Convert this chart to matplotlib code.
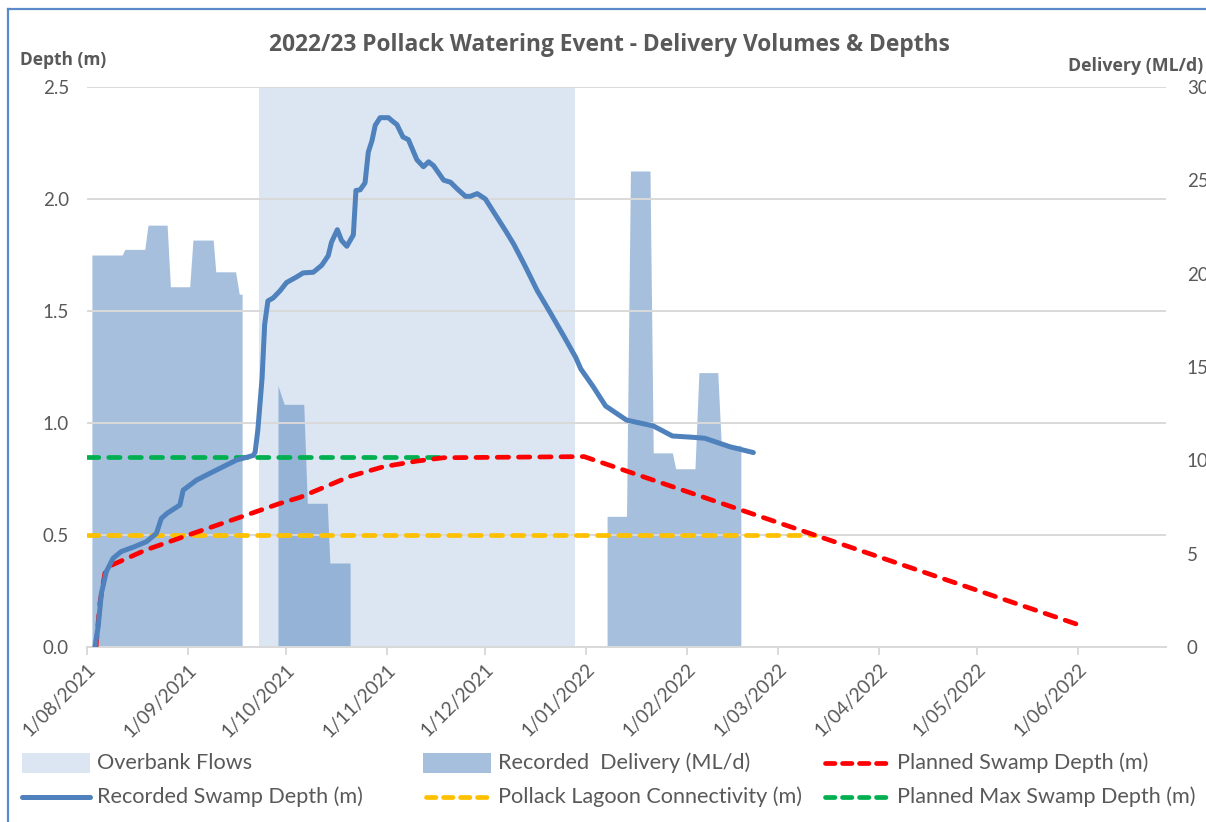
import matplotlib
matplotlib.use('Agg')
import matplotlib.pyplot as plt
from matplotlib.lines import Line2D
from matplotlib.patches import Rectangle
from matplotlib.ticker import FuncFormatter, MultipleLocator
import matplotlib.dates as mdates
import pandas as pd

plt.rcParams['font.family'] = ['Lato', 'DejaVu Sans']
BOLD_FAMILY = ['Open Sans', 'DejaVu Sans']

# ---------------- data ----------------
title = "2022/23 Pollack Watering Event - Delivery Volumes & Depths"

overbank_dates = ['2021-09-22 18:00', '2021-12-28 17:00']
overbank_values = [30, 30]

delivery_dates = [
    '2021-08-02 12:00', '2021-08-02 12:00', '2021-08-11 19:00', '2021-08-12 14:00',
    '2021-08-18 17:00', '2021-08-19 17:00', '2021-08-25 14:00', '2021-08-26 14:00',
    '2021-09-01 12:00', '2021-09-02 12:00', '2021-09-08 17:00', '2021-09-09 12:00',
    '2021-09-15 14:00', '2021-09-16 17:00', '2021-09-17 14:00', '2021-09-17 14:00',
    '2021-09-28 14:00', '2021-09-28 14:00', '2021-09-30 12:00', '2021-10-06 12:00',
    '2021-10-07 14:00', '2021-10-13 17:00', '2021-10-14 12:00', '2021-10-20 17:00',
    '2021-10-20 17:00',
    '2022-01-07 13:00', '2022-01-07 13:00', '2022-01-13 12:00', '2022-01-14 17:00',
    '2022-01-20 17:00', '2022-01-21 17:00', '2022-01-27 14:00', '2022-01-28 14:00',
    '2022-02-03 12:00', '2022-02-04 17:00', '2022-02-10 12:00', '2022-02-11 14:00',
    '2022-02-17 14:00', '2022-02-17 14:00']
delivery_values = [
    0, 21.0, 21.0, 21.3,
    21.3, 22.6, 22.6, 19.3,
    19.3, 21.8, 21.8, 20.1,
    20.1, 18.9, 18.9, 0,
    0, 14.0, 13.0, 13.0,
    7.7, 7.7, 4.5, 4.5,
    0,
    0, 7.0, 7.0, 25.5,
    25.5, 10.4, 10.4, 9.55,
    9.55, 14.7, 14.7, 10.8,
    10.8, 0]

depth_dates = [
    '2021-08-03 10:00', '2021-08-04 10:00', '2021-08-05 10:00', '2021-08-06 22:00',
    '2021-08-09 00:00', '2021-08-11 12:00', '2021-08-15 14:00', '2021-08-19 05:00',
    '2021-08-22 07:00', '2021-08-23 19:00', '2021-08-25 14:00', '2021-08-29 12:00',
    '2021-08-30 12:00', '2021-09-03 14:00', '2021-09-09 17:00', '2021-09-15 22:00',
    '2021-09-21 00:00', '2021-09-21 14:00', '2021-09-22 10:00', '2021-09-23 17:00',
    '2021-09-24 12:00', '2021-09-25 12:00', '2021-09-27 02:00', '2021-09-29 05:00',
    '2021-10-01 05:00', '2021-10-04 07:00', '2021-10-06 07:00', '2021-10-09 10:00',
    '2021-10-12 00:00', '2021-10-14 00:00', '2021-10-15 00:00', '2021-10-16 19:00',
    '2021-10-18 02:00', '2021-10-19 17:00', '2021-10-21 17:00', '2021-10-22 12:00',
    '2021-10-23 19:00', '2021-10-25 07:00', '2021-10-26 07:00', '2021-10-27 10:00',
    '2021-10-28 10:00', '2021-10-29 22:00', '2021-11-01 12:00', '2021-11-02 12:00',
    '2021-11-04 02:00', '2021-11-05 22:00', '2021-11-07 14:00', '2021-11-10 05:00',
    '2021-11-12 05:00', '2021-11-13 19:00', '2021-11-15 07:00', '2021-11-18 10:00',
    '2021-11-20 12:00', '2021-11-22 12:00', '2021-11-25 02:00', '2021-11-26 14:00',
    '2021-11-28 17:00', '2021-12-01 05:00', '2021-12-04 19:00', '2021-12-07 10:00',
    '2021-12-09 22:00', '2021-12-13 00:00', '2021-12-17 02:00', '2021-12-21 05:00',
    '2021-12-25 07:00', '2021-12-28 22:00', '2021-12-30 12:00', '2022-01-03 07:00',
    '2022-01-07 02:00', '2022-01-13 12:00', '2022-01-21 17:00', '2022-01-27 14:00',
    '2022-02-03 00:00', '2022-02-06 12:00', '2022-02-14 05:00', '2022-02-21 10:00']
depth_values = [
    0.0, 0.09, 0.24, 0.336,
    0.396, 0.426, 0.448, 0.47,
    0.507, 0.574, 0.597, 0.634,
    0.70, 0.745, 0.79, 0.835,
    0.855, 0.87, 0.97, 1.2,
    1.44, 1.545, 1.558, 1.59,
    1.627, 1.652, 1.67, 1.673,
    1.704, 1.747, 1.807, 1.863,
    1.815, 1.789, 1.84, 2.038,
    2.041, 2.072, 2.209, 2.26,
    2.329, 2.363, 2.363, 2.35,
    2.332, 2.277, 2.265, 2.175,
    2.144, 2.166, 2.149, 2.084,
    2.075, 2.046, 2.012, 2.012,
    2.024, 2.0, 1.918, 1.858,
    1.798, 1.712, 1.592, 1.49,
    1.387, 1.293, 1.241, 1.162,
    1.076, 1.013, 0.987, 0.942,
    0.936, 0.932, 0.894, 0.868]

planned_dates = [
    '2021-08-03 18:00', '2021-08-05 00:00', '2021-08-06 12:00', '2021-08-08 12:00',
    '2021-08-19 00:00', '2021-09-02 12:00', '2021-09-15 22:00', '2021-09-29 00:00',
    '2021-10-05 08:00', '2021-10-20 17:00', '2021-10-31 00:00', '2021-11-10 05:00',
    '2021-11-18 10:00', '2021-12-31 12:00', '2022-06-01 00:00']
planned_values = [
    0.0, 0.20, 0.33, 0.365,
    0.433, 0.507, 0.574, 0.64,
    0.668, 0.762, 0.805, 0.83,
    0.845, 0.85, 0.10]

connect_dates = ['2021-08-01 00:00', '2022-03-12 06:00']
connect_values = [0.5, 0.5]

maxdepth_dates = ['2021-08-01 00:00', '2021-11-18 18:00']
maxdepth_values = [0.85, 0.85]

x_start, x_end = '2021-08-01', '2022-06-28'
tick_dates = pd.date_range('2021-08-01', '2022-06-01', freq='MS')

labels = ['Overbank Flows', 'Recorded  Delivery (ML/d)', 'Planned Swamp Depth (m)',
          'Recorded Swamp Depth (m)', 'Pollack Lagoon Connectivity (m)',
          'Planned Max Swamp Depth (m)']

# ---------------- styles ----------------
TXT = '#595959'
GRID = '#D9D9D9'
C_OVER = '#DCE6F2'
C_DELIV = '#4F81BD'
C_DEPTH = '#4F81BD'
C_RED = '#FF0000'
C_YEL = '#FFC000'
C_GRN = '#00B050'
DASH = (0, (2.4, 2.1))
LW_DASH = 3.4
LW_DEPTH = 3.6

to_dt = pd.to_datetime

fig = plt.figure(figsize=(12.06, 8.22), dpi=100)
ax = fig.add_axes([87/1206, 1 - 647/822, (1166 - 87)/1206, (647 - 87)/822])
ax2 = ax.twinx()
ax.set_zorder(ax2.get_zorder() + 1)
ax.patch.set_visible(False)

# areas on secondary axis
ax2.fill_between(to_dt(overbank_dates), 0, overbank_values, color=C_OVER, lw=0)
ax2.fill_between(to_dt(delivery_dates), 0, delivery_values, color=C_DELIV, alpha=0.5, lw=0)

# lines on primary axis
ax.plot(to_dt(depth_dates), depth_values, color=C_DEPTH, lw=LW_DEPTH,
        solid_capstyle='round', solid_joinstyle='round', zorder=5)
ax.plot(to_dt(connect_dates), connect_values, color=C_YEL, lw=LW_DASH, ls=DASH,
        dash_capstyle='round', zorder=4)
ax.plot(to_dt(maxdepth_dates), maxdepth_values, color=C_GRN, lw=LW_DASH, ls=DASH,
        dash_capstyle='round', zorder=4)
ax.plot(to_dt(planned_dates), planned_values, color=C_RED, lw=LW_DASH, ls=DASH,
        dash_capstyle='round', zorder=4.5)

# axes limits and ticks
ax.set_xlim(to_dt(x_start), to_dt(x_end))
ax.set_ylim(0, 2.5)
ax2.set_ylim(0, 30)
ax.yaxis.set_major_locator(MultipleLocator(0.5))
ax2.yaxis.set_major_locator(MultipleLocator(5))
ax.yaxis.set_major_formatter(FuncFormatter(lambda v, p: f"{v:.1f}"))
ax2.yaxis.set_major_formatter(FuncFormatter(lambda v, p: f"{v:.0f}"))
ax.set_xticks(list(tick_dates))
ax.xaxis.set_major_formatter(FuncFormatter(
    lambda v, p: (lambda d: f"{d.day}/{d.month:02d}/{d.year}")(mdates.num2date(v))))

ax.grid(axis='y', color=GRID, lw=1.4)
ax.set_axisbelow(False)
for a in (ax, ax2):
    for s in ('left', 'right', 'top'):
        a.spines[s].set_visible(False)
    a.spines['bottom'].set_color(GRID)
    a.spines['bottom'].set_linewidth(1.4)
ax.tick_params(axis='y', length=0, pad=13, labelsize=13.5, labelcolor=TXT)
ax2.tick_params(axis='y', length=0, pad=15, labelsize=13.5, labelcolor=TXT)
ax.tick_params(axis='x', length=6, width=1.4, color=GRID, labelsize=13.8,
               labelcolor=TXT, pad=4)
for lab in ax.get_xticklabels():
    lab.set_rotation(45)
    lab.set_ha('right')
    lab.set_va('top')
    lab.set_rotation_mode('anchor')

# titles
fig.text(609/1206, 1 - 45/822, title, ha='center', va='center', fontsize=16.4,
         fontweight='bold', color=TXT, family=BOLD_FAMILY)
fig.text(20/1206, 1 - 60/822, 'Depth (m)', ha='left', va='center', fontsize=12.5,
         fontweight='bold', color=TXT, family=BOLD_FAMILY)
fig.text(1203/1206, 1 - 66/822, 'Delivery (ML/d)', ha='right', va='center',
         fontsize=12.8, fontweight='bold', color=TXT, family=BOLD_FAMILY)

# legend (manual, 3 columns x 2 rows)
col_x = [22, 423, 822]
row_y = [763, 797]
hlen = 68
legend_styles = [
    ('patch', C_OVER, 1.0),
    ('patch', C_DELIV, 0.5),
    ('dash', C_RED, None),
    ('solid', C_DEPTH, None),
    ('dash', C_YEL, None),
    ('dash', C_GRN, None),
]
for i, (lab, sty) in enumerate(zip(labels, legend_styles)):
    r, c = divmod(i, 3)
    x0 = col_x[c]
    yc = row_y[r]
    kind, col, al = sty
    if kind == 'patch':
        fig.add_artist(Rectangle((x0/1206, 1 - (yc + 10)/822), hlen/1206, 20/822,
                                 transform=fig.transFigure, color=col, alpha=al, lw=0))
    elif kind == 'solid':
        fig.add_artist(Line2D([x0/1206, (x0 + hlen)/1206], [1 - yc/822] * 2,
                              transform=fig.transFigure, color=col, lw=LW_DEPTH,
                              solid_capstyle='round'))
    else:
        fig.add_artist(Line2D([(x0 + 3)/1206, (x0 + hlen - 3)/1206], [1 - yc/822] * 2,
                              transform=fig.transFigure, color=col, lw=LW_DASH,
                              ls=(0, (2.0, 1.6)), dash_capstyle='round'))
    fig.text((x0 + hlen + 7)/1206, 1 - yc/822, lab, ha='left', va='center',
             fontsize=15.6, color=TXT)

# chart border (left and top edges visible)
fig.add_artist(Line2D([8/1206, 8/1206], [0, 1 - 9/822], transform=fig.transFigure,
                      color='#5B8ACB', lw=1.6))
fig.add_artist(Line2D([8/1206, 1], [1 - 9/822, 1 - 9/822], transform=fig.transFigure,
                      color='#5B8ACB', lw=1.6))

fig.savefig('out.png', dpi=100)
